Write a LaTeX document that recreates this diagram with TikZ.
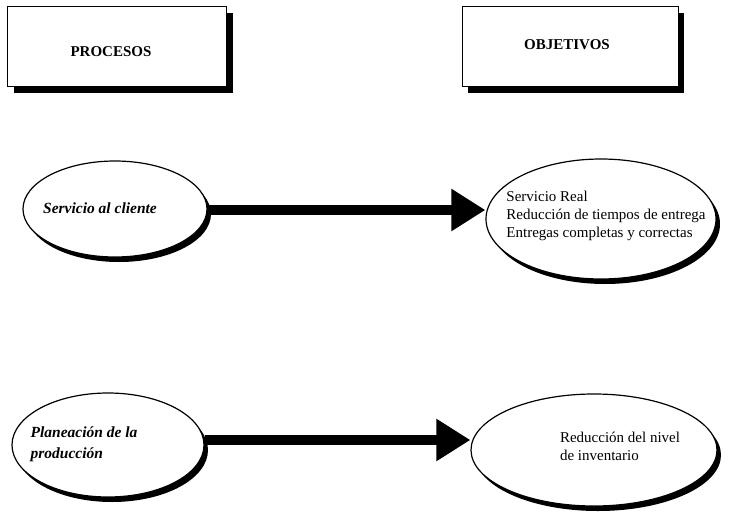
\documentclass[tikz,border=0pt]{standalone}
\usepackage{fontspec}
\setmainfont{Liberation Serif}
\usetikzlibrary{shapes.geometric,arrows.meta,shadows}
\begin{document}
\begin{tikzpicture}[x=1pt,y=-1pt,
  headbox/.style={draw=black, line width=1pt, fill=white, inner sep=0pt,
    drop shadow={shadow xshift=6pt, shadow yshift=-7pt, opacity=1, fill=black}},
  headtext/.style={font=\fontsize{15}{17}\selectfont\bfseries},
  oval/.style={ellipse, draw=black, line width=1.2pt, fill=white, inner sep=0pt,
    drop shadow={shadow xshift=4pt, shadow yshift=-5pt, opacity=1, fill=black}},
  proctext/.style={font=\fontsize{15.5}{21}\selectfont\bfseries\itshape, align=left, inner sep=0pt},
  goaltext/.style={font=\fontsize{15}{18}\selectfont, align=left, inner sep=0pt},
  flow/.style={line width=10pt, -{Triangle[length=34pt,width=40pt]}}]
\useasboundingbox (0,0) rectangle (742,517);

% column headings
\node[headbox, minimum width=219pt, minimum height=80pt] (proc) at (117,46) {};
\node[headtext] (proct) at (111,52) {PROCESOS};
\node[headbox, minimum width=216pt, minimum height=80pt] (obj) at (570,46) {};
\node[headtext] (objt) at (567,45) {OBJETIVOS};

% first row
\node[oval, minimum width=184pt, minimum height=96pt] (sc) at (115,209) {};
\node[proctext] (sct) at (100,208) {Servicio al cliente};
\node[oval, minimum width=230pt, minimum height=120pt] (sr) at (601,219) {};
\node[goaltext] (srt) at (606,216) {Servicio Real\\Reducción de tiempos de entrega\\Entregas completas y correctas};

% second row
\node[oval, minimum width=192pt, minimum height=104pt] (pp) at (108,445) {};
\node[proctext] (ppt) at (84,444) {Planeación de la\\producción};
\node[oval, minimum width=246pt, minimum height=112pt] (ri) at (594,450) {};
\node[goaltext] (rit) at (620,446) {Reducción del nivel\\de inventario};

% connectors
\coordinate (a1) at (sc.east |- 0,210);
\coordinate (b1) at (sr.west |- 0,210);
\draw[flow] (a1) -- (b1);
\coordinate (a2) at (pp.east |- 0,440);
\coordinate (b2) at (ri.west |- 0,440);
\draw[flow] (a2) -- (b2);
\end{tikzpicture}
\end{document}
